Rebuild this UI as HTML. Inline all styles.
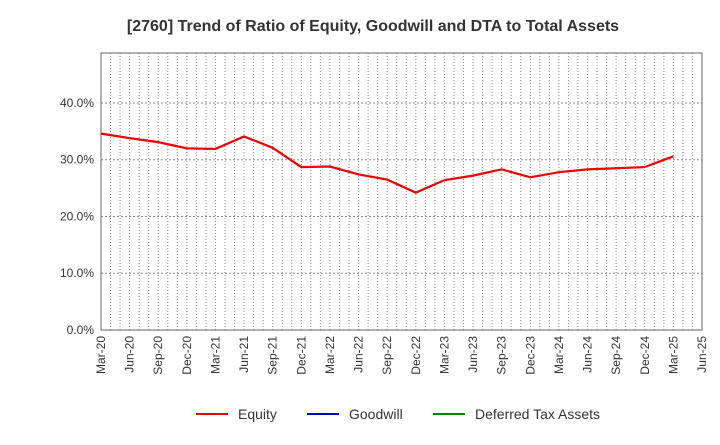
<!DOCTYPE html>
<html><head><meta charset="utf-8"><style>
body{margin:0;background:#fff;font-family:"Liberation Sans",sans-serif}
</style></head><body>
<svg width="720" height="440" xmlns="http://www.w3.org/2000/svg">
<text x="373" y="31" text-anchor="middle" font-size="16" font-weight="bold" fill="#333">[2760]  Trend of Ratio of Equity, Goodwill and DTA to Total Assets</text>
<g id="grid"></g>
<g id="axes"></g>
<g id="series"></g>
<g font-size="14" fill="#333">
<line x1="196" y1="414" x2="228" y2="414" stroke="#e00" stroke-width="2"/><text x="238" y="419">Equity</text>
<line x1="307" y1="414" x2="339" y2="414" stroke="#00c" stroke-width="2"/><text x="349" y="419">Goodwill</text>
<line x1="433" y1="414" x2="465" y2="414" stroke="#080" stroke-width="2"/><text x="475" y="419">Deferred Tax Assets</text>
</g>
</svg>
<script>
const categories=["Mar-20","Jun-20","Sep-20","Dec-20","Mar-21","Jun-21","Sep-21","Dec-21","Mar-22","Jun-22","Sep-22","Dec-22","Mar-23","Jun-23","Sep-23","Dec-23","Mar-24","Jun-24","Sep-24","Dec-24","Mar-25","Jun-25"];
const equity=[34.6,33.8,33.1,32.0,31.9,34.1,32.1,28.7,28.8,27.4,26.5,24.2,26.4,27.2,28.3,26.9,27.8,28.3,28.5,28.7,30.6];
const yTicks=[0,10,20,30,40];
const L=101,R=702,T=53,B=330,yMax=48.8;
const ns="http://www.w3.org/2000/svg";
const X=i=>L+i*(R-L)/(categories.length-1);
const Y=v=>B-v/yMax*(B-T);
function mk(p,tag,a){const e=document.createElementNS(ns,tag);for(const k in a)e.setAttribute(k,a[k]);p.appendChild(e);return e;}
const g=document.getElementById('grid'),ax=document.getElementById('axes'),s=document.getElementById('series');
for(let m=1;m<(categories.length-1)*3;m++){const x=L+m*(R-L)/((categories.length-1)*3);
const l=mk(g,'line',{x1:x,x2:x,y1:T,y2:B,stroke:'#888','stroke-dasharray':'1,2','stroke-width':1});
}
yTicks.forEach(v=>{const y=Y(v);
if(v>0){const l=mk(g,'line',{x1:L,x2:R,y1:y,y2:y,stroke:'#888','stroke-dasharray':'2,2'});
}
const t=mk(ax,'text',{x:L-7,y:y+4,'text-anchor':'end','font-size':12,fill:'#333'});t.textContent=v.toFixed(1)+'%';
});
const fr=mk(ax,'rect',{x:L,y:T,width:R-L,height:B-T,fill:'none',stroke:'#666'});

categories.forEach((c,i)=>{const x=X(i);const t=mk(ax,'text',{transform:`translate(${x+4},${B+6}) rotate(-90)`,'text-anchor':'end','font-size':12,fill:'#333'});t.textContent=c;
});
const p=mk(s,'polyline',{points:equity.map((v,i)=>X(i)+','+Y(v)).join(' '),fill:'none',stroke:'#e00','stroke-width':2.2});

</script>
</body></html>
